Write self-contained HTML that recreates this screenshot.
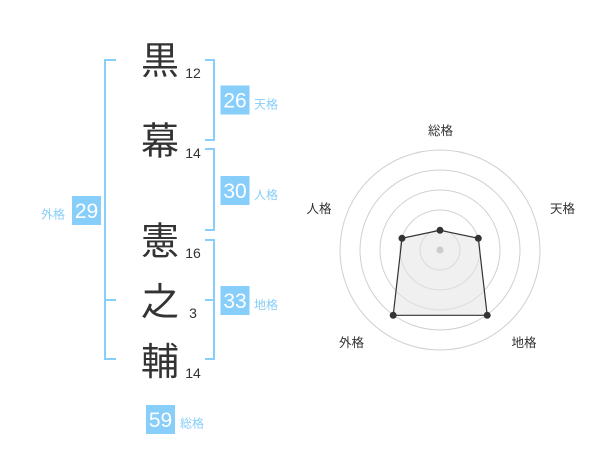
<!DOCTYPE html>
<html><head><meta charset="utf-8"><style>
html,body{margin:0;padding:0;background:#fff;}
svg{display:block;}
.k{font-family:"Liberation Sans","Noto Sans CJK JP",sans-serif;font-size:38px;fill:#333;text-anchor:middle;}
.n{font-family:"Liberation Sans",sans-serif;font-size:14px;fill:#333;text-anchor:middle;}
.b{font-family:"Liberation Sans",sans-serif;font-size:21px;fill:#fff;text-anchor:middle;}
.l{font-family:"Liberation Sans","Noto Sans CJK JP",sans-serif;font-size:12px;fill:#87cefa;}
.r{font-family:"Liberation Sans","Noto Sans CJK JP",sans-serif;font-size:12.5px;fill:#333;text-anchor:middle;}
</style></head><body>
<svg width="600" height="470" viewBox="0 0 600 470" xmlns="http://www.w3.org/2000/svg">
<!-- brackets -->
<g fill="none" stroke="#87cefa" stroke-width="2">
<path d="M116,60 H105 V359 H116 M105,300 H116"/>
<path d="M205,60 H214 V140 H205"/>
<path d="M205,149 H214 V230 H205"/>
<path d="M205,240 H214 V359 H205 M214,300 H205"/>
</g>
<!-- kanji -->
<text class="k" x="160" y="74">黒</text>
<text class="k" x="160" y="154.5">幕</text>
<text class="k" x="160" y="254.5">憲</text>
<text class="k" x="160" y="315">之</text>
<text class="k" x="160" y="375">輔</text>
<!-- stroke numbers -->
<text class="n" x="193" y="78">12</text>
<text class="n" x="193" y="158">14</text>
<text class="n" x="193" y="258">16</text>
<text class="n" x="193" y="318">3</text>
<text class="n" x="193" y="378">14</text>
<!-- boxes -->
<g fill="#87cefa">
<rect x="220.5" y="85.5" width="29" height="29"/>
<rect x="220.5" y="176" width="29" height="29"/>
<rect x="220.5" y="286" width="29" height="29"/>
<rect x="72" y="196" width="29" height="29"/>
<rect x="146" y="405" width="29" height="29"/>
</g>
<text class="b" x="235" y="107.5">26</text>
<text class="b" x="235" y="198">30</text>
<text class="b" x="235" y="308">33</text>
<text class="b" x="86.5" y="218">29</text>
<text class="b" x="160.5" y="427">59</text>
<text class="l" x="254" y="108.5">天格</text>
<text class="l" x="254" y="199">人格</text>
<text class="l" x="254" y="309">地格</text>
<text class="l" x="41" y="218.5">外格</text>
<text class="l" x="180" y="427.5">総格</text>
<!-- radar -->
<g fill="none" stroke="#d0d0d0" stroke-width="1">
<circle cx="440" cy="250" r="100"/>
<circle cx="440" cy="250" r="80"/>
<circle cx="440" cy="250" r="60"/>
<circle cx="440" cy="250" r="40"/>
<circle cx="440" cy="250" r="20"/>
</g>
<polygon points="440,230.3 478.3,238.3 487.2,315.3 393.2,315.3 402,238.3" fill="#e4e4e4" fill-opacity="0.55" stroke="#333" stroke-width="1.2"/>
<circle cx="440" cy="250" r="3.5" fill="#ccc"/>
<g fill="#333">
<circle cx="440" cy="230.3" r="3.5"/>
<circle cx="478.3" cy="238.3" r="3.5"/>
<circle cx="487.2" cy="315.3" r="3.5"/>
<circle cx="393.2" cy="315.3" r="3.5"/>
<circle cx="402" cy="238.3" r="3.5"/>
</g>
<text class="r" x="440.5" y="135">総格</text>
<text class="r" x="562.5" y="213">天格</text>
<text class="r" x="319" y="213">人格</text>
<text class="r" x="351.5" y="347">外格</text>
<text class="r" x="524" y="347">地格</text>
</svg>
</body></html>
